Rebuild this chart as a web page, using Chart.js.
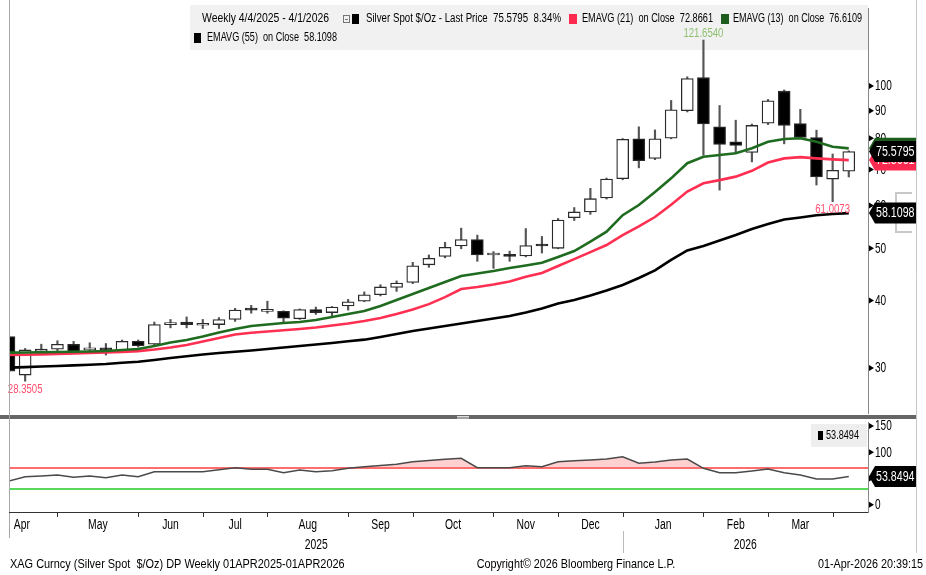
<!DOCTYPE html>
<html><head><meta charset="utf-8">
<script src="https://cdn.jsdelivr.net/npm/chart.js@4.4.1/dist/chart.umd.min.js"></script>
<style>
html,body{margin:0;padding:0;background:#fff;}
#wrap{position:relative;width:926px;height:575px;overflow:hidden;}
canvas{position:absolute;left:0;top:0;}
</style></head><body>
<div id="wrap"><canvas id="main" width="926" height="575"></canvas><canvas id="sub" width="926" height="575"></canvas></div>
<script>
// ---- data (weekly candles, Fri dates) ----
const weekDates = ['2025-04-04','2025-04-11','2025-04-18','2025-04-25','2025-05-02','2025-05-09','2025-05-16','2025-05-23','2025-05-30',
 '2025-06-06','2025-06-13','2025-06-20','2025-06-27','2025-07-04','2025-07-11','2025-07-18','2025-07-25','2025-08-01','2025-08-08',
 '2025-08-15','2025-08-22','2025-08-29','2025-09-05','2025-09-12','2025-09-19','2025-09-26','2025-10-03','2025-10-10','2025-10-17',
 '2025-10-24','2025-10-31','2025-11-07','2025-11-14','2025-11-21','2025-11-28','2025-12-05','2025-12-12','2025-12-19','2025-12-26',
 '2026-01-02','2026-01-09','2026-01-16','2026-01-23','2026-01-30','2026-02-06','2026-02-13','2026-02-20','2026-02-27','2026-03-06',
 '2026-03-13','2026-03-20','2026-03-27','2026-04-03'];
const opens  = [34.3,29.1,32.2,32.5,33.2,32.4,32.5,32.4,33.6,33.2,36.1,36.5,36.0,36.1,36.9,38.5,38.2,38.2,37.0,38.5,38.0,39.1,39.9,41.0,42.3,43.2,46.6,48.3,50.5,51.9,48.6,48.5,48.4,50.6,50.0,57.0,58.4,62.0,67.3,79.8,73.4,80.0,90.0,103.6,84.0,78.8,75.3,85.3,97.8,85.2,80.2,67.2,69.5];
const highs  = [34.5,32.6,33.2,33.7,33.6,33.4,33.3,33.8,33.8,36.5,36.9,37.3,36.9,37.2,38.7,39.2,39.9,38.3,38.6,38.9,39.0,40.2,41.5,42.8,43.5,47.1,48.6,51.3,54.5,52.9,49.3,49.4,54.4,52.6,56.8,59.5,64.6,67.5,79.9,84.0,82.9,94.0,104.0,121.654,92.0,86.4,85.0,94.4,98.3,90.5,82.8,74.8,75.8];
const lows   = [29.3,28.3505,32.0,32.3,32.0,31.9,31.7,32.2,32.8,33.0,35.6,35.6,35.5,35.5,36.6,37.9,37.9,36.3,36.9,37.7,37.3,38.4,39.8,40.8,41.6,43.0,46.1,48.0,49.9,47.3,45.9,47.3,48.2,49.0,49.9,56.3,57.8,61.7,67.0,70.5,73.0,79.8,89.5,74.4,64.1,75.2,72.3,84.8,78.1,80.0,65.5,61.0073,67.8];
const closes = [29.6,32.4,32.5,33.2,32.2,32.7,32.4,33.6,33.0,36.1,36.2,36.1,36.1,36.9,38.4,38.4,38.25,37.1,38.5,38.0,38.9,39.8,41.0,42.4,43.1,46.4,47.9,50.2,51.9,48.6,48.7,48.3,50.6,50.5,56.4,58.4,61.8,67.2,79.6,72.7,79.8,90.3,103.2,85.0,77.9,77.6,84.5,93.9,84.5,80.3,67.8,69.76,75.5795];
const ema13  = [32.02,32.05,32.08,32.12,32.15,32.19,32.26,32.39,32.53,32.95,33.44,33.80,34.31,34.90,35.43,35.89,36.12,36.35,36.51,36.82,37.30,37.78,38.26,39.09,40.1,41.14,42.2,43.3,44.43,44.91,45.39,45.97,46.46,46.99,48.17,49.42,51.47,53.67,57.6,60.16,63.6,67.4,71.9,73.9,74.46,75.0,76.63,78.8,79.75,79.99,78.8,77.16,76.6109];
const ema21  = [31.70,31.74,31.79,31.84,31.9,31.97,32.04,32.13,32.24,32.45,32.74,33.09,33.59,34.10,34.6,34.86,35.05,35.25,35.43,35.66,35.97,36.27,36.66,37.13,37.78,38.5,39.4,40.6,42.03,42.4,42.85,43.4,44.3,44.99,46.35,47.75,49.2,50.7,52.9,54.9,57.15,60.2,63.7,66.0,66.9,67.9,69.6,72.1,73.4,73.8,73.4,73.1,72.8661];
const ema55  = [30.03,30.11,30.19,30.25,30.33,30.41,30.51,30.67,30.8,31.03,31.30,31.53,31.77,31.98,32.15,32.32,32.53,32.74,32.95,33.16,33.37,33.62,33.85,34.24,34.68,35.12,35.5,35.89,36.27,36.66,37.05,37.45,38.02,38.67,39.51,40.1,40.88,41.76,42.76,44.05,45.49,47.57,49.54,50.5,51.7,52.93,54.3,55.47,56.55,57.03,57.57,57.9,58.1098];
const rsi    = [45.2,53.4,54.8,56.7,52.3,54.8,51.5,56.7,53.4,63,63,63,63,66.8,70.6,67.5,67.5,61,66.2,63,64.9,69.4,72.5,74.8,77,82,84.3,86.6,88.5,70.6,70.6,70.6,74.4,72.5,82,83.7,85.2,87.1,91.5,79,81.4,85.2,87.1,69.4,61,61,64.3,68.1,61,56.7,49,49,53.8494];
const priceTicks = [30,40,50,60,70,80,90,100];
const rsiTicks = [0,50,100,150];
const monthLabels = ['Apr','May','Jun','Jul','Aug','Sep','Oct','Nov','Dec','Jan','Feb','Mar'];
const monthEndIdx = [3,8,12,16,21,25,30,34,38,43,47,51];
const yearLabels = ['2025','2026'];

const FAM = '"Liberation Sans", Arial, sans-serif';
const X_MIN = 0.062, X_MAX = 53.19;
const idx = closes.map((_, i) => i);

// condensed text helper (horizontal squeeze to mimic the narrow terminal font)
function txt(c, s, x, y, color, size, align, sx) {
  sx = sx || 0.78;
  c.save();
  c.font = size + 'px ' + FAM;
  const w = c.measureText(s).width * sx;
  const x0 = align === 'center' ? x - w / 2 : (align === 'right' ? x - w : x);
  c.translate(x0, y); c.scale(sx, 1);
  c.fillStyle = color; c.textAlign = 'left'; c.textBaseline = 'middle';
  c.fillText(s, 0, 0);
  c.restore();
}
// text squeezed to span [x0, x1]
function txtFit(c, s, x0, x1, y, color, size) {
  c.save();
  c.font = size + 'px ' + FAM;
  const sx = (x1 - x0) / c.measureText(s).width;
  c.restore();
  txt(c, s, x0, y, color, size, 'left', sx);
}
function tag(c, y, bg, s, left, right) {
  c.save();
  c.beginPath();
  c.moveTo(left, y); c.lineTo(left + 6, y - 10.5); c.lineTo(right, y - 10.5);
  c.lineTo(right, y + 10.5); c.lineTo(left + 6, y + 10.5); c.closePath();
  c.fillStyle = bg; c.fill();
  c.restore();
  txt(c, s, left + 7, y + 0.5, '#fff', 14, 'left', 0.76);
}
function axisLabels(c, scale, vals, xr) {
  c.save();
  c.fillStyle = '#000';
  vals.forEach(v => { const y = scale.getPixelForValue(v);
    c.beginPath(); c.moveTo(xr + 1, y - 3); c.lineTo(xr + 6, y); c.lineTo(xr + 1, y + 3); c.closePath(); c.fill();
    txt(c, String(v), xr + 7, y + 0.5, '#000', 14, 'left', 0.72);
  });
  c.restore();
}

const mainDecor = {
  id: 'mainDecor',
  beforeDatasetsDraw(chart) {
    const c = chart.ctx; c.save(); c.fillStyle = '#f1f1f1'; c.fillRect(190, 5, 678, 45); c.restore();
  },
  afterDraw(chart) {
    const c = chart.ctx, ys = chart.scales.y, xs = chart.scales.x, a = chart.chartArea;
    c.save();
    axisLabels(c, ys, priceTicks, a.right);
    txt(c, '121.6540', xs.getPixelForValue(43), ys.getPixelForValue(highs[43]) - 6, '#8fc070', 12, 'center', 0.8);
    txt(c, '28.3505', xs.getPixelForValue(1), ys.getPixelForValue(lows[1]) + 8, '#ff4d6d', 12, 'center', 0.8);
    txt(c, '61.0073', xs.getPixelForValue(51), ys.getPixelForValue(lows[51]) + 8, '#ff4d6d', 12, 'center', 0.8);
    // faint watermark shape
    c.strokeStyle = '#c8c8c8'; c.lineWidth = 2;
    c.beginPath(); c.moveTo(912, 193); c.lineTo(896, 193); c.lineTo(896, 232); c.lineTo(912, 232); c.stroke();
    // value tags
    const L = a.right + 1, R = 917;
    tag(c, ys.getPixelForValue(ema21[52]), '#ff2a4f', '72.8661', L, R);
    tag(c, ys.getPixelForValue(ema13[52]), '#1d5c1d', '76.6109', L, R);
    tag(c, ys.getPixelForValue(closes[52]), '#000', '75.5795', L, R);
    tag(c, ys.getPixelForValue(ema55[52]), '#000', '58.1098', L, R);
    // legend
    const r1 = 19, r2 = 38, fs = 12.5;
    txtFit(c, 'Weekly 4/4/2025 - 4/1/2026', 202, 329, r1, '#000', fs);
    c.strokeStyle = '#777'; c.lineWidth = 1; c.strokeRect(343.5, 15.5, 6, 7);
    c.beginPath(); c.moveTo(345, 19.5); c.lineTo(348, 19.5); c.stroke();
    c.fillStyle = '#000'; c.fillRect(352, 14, 7, 10);
    txtFit(c, 'Silver Spot $/Oz - Last Price  75.5795  8.34%', 366, 561, r1, '#000', fs);
    c.fillStyle = '#ff2a4f'; c.fillRect(569, 14, 8, 10);
    txtFit(c, 'EMAVG (21)  on Close  72.8661', 582, 713, r1, '#000', fs);
    c.fillStyle = '#1d5c1d'; c.fillRect(721, 14, 8, 10);
    txtFit(c, 'EMAVG (13)  on Close  76.6109', 733, 862, r1, '#000', fs);
    c.fillStyle = '#000'; c.fillRect(194, 33, 7, 10);
    txtFit(c, 'EMAVG (55)  on Close  58.1098', 207, 337, r2, '#000', fs);
    c.restore();
  }
};

const subDecor = {
  id: 'subDecor',
  beforeDatasetsDraw(chart) {
    const c = chart.ctx, ys = chart.scales.y, a = chart.chartArea;
    c.save(); c.lineWidth = 1.5;
    c.strokeStyle = '#ff3b3b'; let y = ys.getPixelForValue(70);
    c.beginPath(); c.moveTo(a.left, y); c.lineTo(a.right, y); c.stroke();
    c.strokeStyle = '#22cc22'; y = ys.getPixelForValue(30);
    c.beginPath(); c.moveTo(a.left, y); c.lineTo(a.right, y); c.stroke();
    c.restore();
  },
  afterDraw(chart) {
    const c = chart.ctx, ys = chart.scales.y, xs = chart.scales.x, a = chart.chartArea;
    c.save();
    axisLabels(c, ys, rsiTicks, a.right);
    // legend box
    c.fillStyle = '#eeeeee'; c.fillRect(811, 424, 56, 23);
    c.fillStyle = '#000'; c.fillRect(818, 431, 5, 9);
    txt(c, '53.8494', 826, 436, '#000', 12, 'left', 0.76);
    tag(c, ys.getPixelForValue(rsi[52]), '#000', '53.8494', a.right + 1, 917);
    // panel divider
    c.fillStyle = '#666'; c.fillRect(0, 415, 917, 4);
    c.strokeStyle = '#ddd'; c.lineWidth = 1;
    c.beginPath(); c.moveTo(457, 416.5); c.lineTo(469, 416.5); c.moveTo(457, 418); c.lineTo(469, 418); c.stroke();
    // borders
    c.strokeStyle = '#a8a8a8'; c.lineWidth = 1;
    c.beginPath(); c.moveTo(9.5, 0); c.lineTo(9.5, 538); c.stroke();
    c.strokeStyle = '#c8c8c8';
    c.beginPath(); c.moveTo(916.5, 0); c.lineTo(916.5, 553); c.stroke();
    c.strokeStyle = '#333'; c.lineWidth = 1.2;
    c.beginPath(); c.moveTo(9, a.bottom + 0.5); c.lineTo(a.right, a.bottom + 0.5); c.stroke();
    // month ticks and labels
    c.strokeStyle = '#333'; c.lineWidth = 1;
    let prev = -1.4;
    monthEndIdx.forEach((m, k) => {
      const px = Math.round(xs.getPixelForValue(m)) + 0.5;
      c.beginPath(); c.moveTo(px, a.bottom); c.lineTo(px, a.bottom + 5); c.stroke();
      txt(c, monthLabels[k], xs.getPixelForValue((prev + m) / 2), 525, '#000', 14, 'center', 0.74);
      prev = m;
    });
    const sep = xs.getPixelForValue(38);
    c.strokeStyle = '#bbb';
    c.beginPath(); c.moveTo(Math.round(sep) + 0.5, 531); c.lineTo(Math.round(sep) + 0.5, 553); c.stroke();
    txt(c, yearLabels[0], (a.left + sep) / 2, 545, '#000', 14, 'center', 0.74);
    txt(c, yearLabels[1], (sep + a.right) / 2, 545, '#000', 14, 'center', 0.74);
    // footer
    txt(c, 'XAG Curncy (Silver Spot  $/Oz) DP Weekly 01APR2025-01APR2026', 10, 564, '#000', 13.5, 'left', 0.81);
    txt(c, 'Copyright\u00A9 2026 Bloomberg Finance L.P.', 576, 564, '#000', 13.5, 'center', 0.8);
    txt(c, '01-Apr-2026 20:39:15', 923, 564, '#000', 13.5, 'right', 0.8);
    c.restore();
  }
};

const commonX = { type: 'linear', min: X_MIN, max: X_MAX, display: false, offset: false, bounds: 'data' };
function fixAxis(s) { s.width = 58; s.paddingTop = 0; s.paddingBottom = 0; s.paddingLeft = 0; s.paddingRight = 0; }

new Chart(document.getElementById('main'), {
  type: 'bar',
  data: {
    datasets: [
      { type: 'line', data: idx.map(i => ({ x: i, y: ema13[i] })), borderColor: '#1f6b1f', borderWidth: 2.6, pointRadius: 0, order: 0 },
      { type: 'line', data: idx.map(i => ({ x: i, y: ema21[i] })), borderColor: '#ff2f52', borderWidth: 2.6, pointRadius: 0, order: 0 },
      { type: 'line', data: idx.map(i => ({ x: i, y: ema55[i] })), borderColor: '#000000', borderWidth: 2.6, pointRadius: 0, order: 0 },
      { type: 'bar', data: idx.map(i => ({ x: i, y: [opens[i], closes[i]] })),
        backgroundColor: idx.map(i => closes[i] >= opens[i] ? '#ffffff' : '#000000'),
        borderColor: '#2a2a2a', borderWidth: 1.3, borderSkipped: false, barThickness: 12, minBarLength: 2, grouped: false, order: 1 },
      { type: 'bar', data: idx.map(i => ({ x: i, y: [lows[i], highs[i]] })),
        backgroundColor: '#555555', borderWidth: 0, barThickness: 1.5, grouped: false, order: 2 }
    ]
  },
  options: {
    responsive: false, devicePixelRatio: 1, animation: false, events: [],
    layout: { padding: { left: 10, top: 8, right: 0, bottom: 162 } },
    plugins: { legend: { display: false }, tooltip: { enabled: false } },
    scales: {
      x: commonX,
      y: { type: 'logarithmic', position: 'right', min: 24.75, max: 139.5, bounds: 'data',
        afterBuildTicks: s => { s.ticks = priceTicks.map(v => ({ value: v })); },
        afterFit: fixAxis,
        grid: { display: false, drawTicks: false },
        border: { display: true, color: '#888', width: 1 },
        ticks: { display: false } }
    }
  },
  plugins: [mainDecor]
});

new Chart(document.getElementById('sub'), {
  type: 'line',
  data: {
    datasets: [
      { data: idx.map(i => ({ x: i, y: rsi[i] })), borderColor: '#4a4a4a', borderWidth: 1.5, pointRadius: 0,
        fill: { target: { value: 70 }, above: 'rgba(255,120,120,0.35)', below: 'rgba(0,0,0,0)' } }
    ]
  },
  options: {
    responsive: false, devicePixelRatio: 1, animation: false, events: [],
    layout: { padding: { left: 10, top: 422, right: 0, bottom: 63 } },
    plugins: { legend: { display: false }, tooltip: { enabled: false } },
    scales: {
      x: commonX,
      y: { type: 'linear', position: 'right', min: -13.8, max: 157.6, bounds: 'data',
        afterBuildTicks: s => { s.ticks = rsiTicks.map(v => ({ value: v })); },
        afterFit: fixAxis,
        grid: { display: false, drawTicks: false },
        border: { display: true, color: '#888', width: 1 },
        ticks: { display: false } }
    }
  },
  plugins: [subDecor]
});
</script>
</body></html>
